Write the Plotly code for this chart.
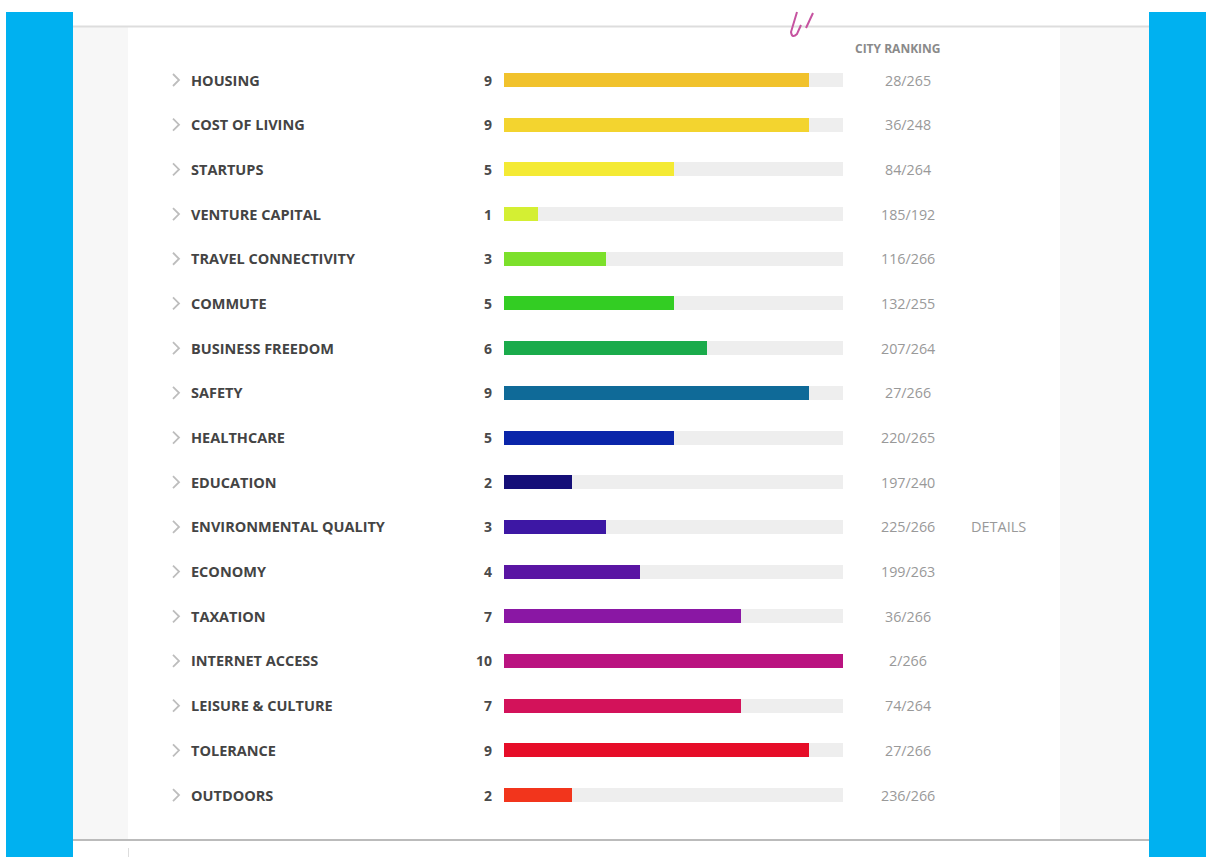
import plotly.graph_objects as go

categories = ["HOUSING", "COST OF LIVING", "STARTUPS", "VENTURE CAPITAL", "TRAVEL CONNECTIVITY",
              "COMMUTE", "BUSINESS FREEDOM", "SAFETY", "HEALTHCARE", "EDUCATION",
              "ENVIRONMENTAL QUALITY", "ECONOMY", "TAXATION", "INTERNET ACCESS",
              "LEISURE & CULTURE", "TOLERANCE", "OUTDOORS"]
scores = [9, 9, 5, 1, 3, 5, 6, 9, 5, 2, 3, 4, 7, 10, 7, 9, 2]
rankings = ["28/265", "36/248", "84/264", "185/192", "116/266", "132/255", "207/264", "27/266",
            "220/265", "197/240", "225/266", "199/263", "36/266", "2/266", "74/264", "27/266",
            "236/266"]
colors = ["#f1c22c", "#f3d42f", "#f4ea34", "#d4ef33", "#7ce02b", "#33cd23", "#1aab4b", "#0f6a98",
          "#0a25a9", "#150f78", "#3d17a4", "#5a15a3", "#8a17a4", "#ba1380", "#d3125a", "#e60d28",
          "#f2351c"]
max_score = 10

W, H = 1206, 857
def px(x):
    return x / W
def py(y):
    return 1 - y / H

ROW0, STEP = 80, 44.69
n = len(categories)

fig = go.Figure()
fig.add_trace(go.Bar(y=categories, x=[max_score] * n, orientation="h", width=14 / STEP,
                     marker=dict(color="#eeeeee", line=dict(width=0)), hoverinfo="skip"))
fig.add_trace(go.Bar(y=categories, x=scores, orientation="h", width=14 / STEP,
                     marker=dict(color=colors, line=dict(width=0))))

shapes = []
# side blue bars
shapes.append(dict(type="rect", xref="paper", yref="paper", x0=px(6), x1=px(73), y0=py(857), y1=py(12),
                   fillcolor="#00b1f0", line=dict(width=0), layer="below"))
shapes.append(dict(type="rect", xref="paper", yref="paper", x0=px(1149), x1=px(1206), y0=py(857), y1=py(12),
                   fillcolor="#00b1f0", line=dict(width=0), layer="below"))
# light grey side panels
shapes.append(dict(type="rect", xref="paper", yref="paper", x0=px(73), x1=px(128), y0=py(840), y1=py(27),
                   fillcolor="#f7f7f7", line=dict(width=0), layer="below"))
shapes.append(dict(type="rect", xref="paper", yref="paper", x0=px(1060), x1=px(1149), y0=py(840), y1=py(27),
                   fillcolor="#f7f7f7", line=dict(width=0), layer="below"))
# top and bottom rules
shapes.append(dict(type="line", xref="paper", yref="paper", x0=px(73), x1=px(1149), y0=py(26.5), y1=py(26.5),
                   line=dict(color="#dddddd", width=2)))
shapes.append(dict(type="line", xref="paper", yref="paper", x0=px(73), x1=px(1149), y0=py(840), y1=py(840),
                   line=dict(color="#bbbbbb", width=2)))
shapes.append(dict(type="line", xref="paper", yref="paper", x0=px(128.5), x1=px(128.5), y0=py(848), y1=py(857),
                   line=dict(color="#dddddd", width=1)))
# pink squiggle
sq1 = "M {},{} L {},{} Q {},{} {},{} L {},{}".format(px(797), py(12), px(791), py(32), px(792), py(39),
                                                     px(797), py(34), px(801), py(25))
sq2 = "M {},{} L {},{}".format(px(813), py(13), px(806), py(28))
for p in (sq1, sq2):
    shapes.append(dict(type="path", xref="paper", yref="paper", path=p,
                       line=dict(color="#c653a0", width=2)))

# chevrons
for i in range(n):
    yc = ROW0 + STEP * i
    p = "M {},{} L {},{} L {},{}".format(px(173), py(yc - 6), px(179), py(yc), px(173), py(yc + 6))
    shapes.append(dict(type="path", xref="paper", yref="paper", path=p,
                       line=dict(color="#bdbdbd", width=1.8)))

annotations = []
for i, (c, s, r) in enumerate(zip(categories, scores, rankings)):
    annotations.append(dict(x=px(189), xref="paper", y=c, yref="y", text="<b>" + c + "</b>",
                            xanchor="left", yanchor="middle", showarrow=False,
                            font=dict(family="Open Sans", size=14.5, color="#444444")))
    annotations.append(dict(x=px(494), xref="paper", y=c, yref="y", text="<b>" + str(s) + "</b>",
                            xanchor="right", yanchor="middle", showarrow=False,
                            font=dict(family="Open Sans", size=14, color="#4a4a4a")))
    annotations.append(dict(x=px(907.5), xref="paper", y=c, yref="y", text=r,
                            xanchor="center", yanchor="middle", showarrow=False,
                            font=dict(family="Open Sans", size=14.3, color="#999999")))
annotations.append(dict(x=px(898), xref="paper", y=py(49), yref="paper", text="<b>CITY RANKING</b>",
                        xanchor="center", yanchor="middle", showarrow=False,
                        font=dict(family="Open Sans", size=12, color="#8a8a8a")))
annotations.append(dict(x=px(999), xref="paper", y=categories[10], yref="y", text="DETAILS",
                        xanchor="center", yanchor="middle", showarrow=False,
                        font=dict(family="Open Sans", size=14.5, color="#999999")))

y_top = -ROW0 / STEP
y_bot = (H - ROW0) / STEP
fig.update_layout(
    width=W, height=H, margin=dict(l=0, r=0, t=0, b=0),
    paper_bgcolor="white", plot_bgcolor="rgba(0,0,0,0)",
    barmode="overlay", showlegend=False, bargap=0,
    xaxis=dict(domain=[px(504), px(843)], range=[0, max_score], showgrid=False, zeroline=False,
               showticklabels=False, ticks="", fixedrange=True),
    yaxis=dict(domain=[0, 1], type="category", categoryorder="array", categoryarray=categories,
               range=[y_bot, y_top], showgrid=False, zeroline=False, showticklabels=False,
               ticks="", fixedrange=True),
    shapes=shapes, annotations=annotations,
)
fig.write_html("out.html", config={"displayModeBar": False},
               post_script="document.body.style.margin='0';document.body.style.overflow='hidden';")
